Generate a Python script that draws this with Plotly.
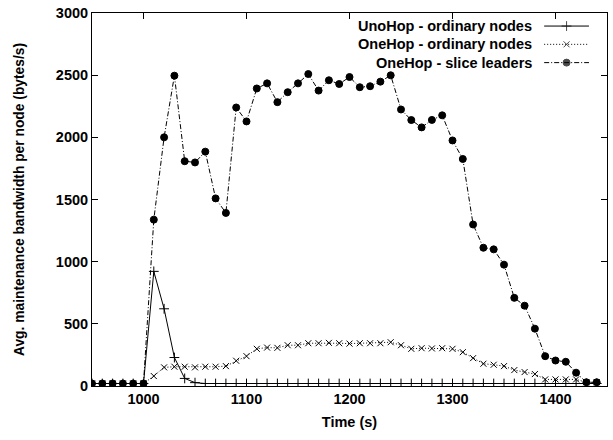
import plotly.graph_objects as go

times = [950, 960, 970, 980, 990, 1000, 1010, 1020, 1030, 1040,
         1050, 1060, 1070, 1080, 1090, 1100, 1110, 1120, 1130, 1140,
         1150, 1160, 1170, 1180, 1190, 1200, 1210, 1220, 1230, 1240,
         1250, 1260, 1270, 1280, 1290, 1300, 1310, 1320, 1330, 1340,
         1350, 1360, 1370, 1380, 1390, 1400, 1410, 1420, 1430, 1440]

unohop_ordinary = [20, 20, 20, 20, 20, 20, 922, 621, 229, 61,
                   27, 20, 20, 20, 20, 20, 20, 20, 20, 20,
                   20, 20, 20, 20, 20, 20, 20, 20, 20, 20,
                   20, 20, 20, 20, 20, 20, 20, 20, 20, 20,
                   20, 20, 20, 20, 20, 20, 20, 20, 20, 20]

onehop_ordinary = [20, 20, 20, 20, 20, 20, 80, 150, 155, 155,
                   150, 155, 155, 160, 203, 240, 299, 309, 307, 328,
                   328, 344, 344, 347, 344, 341, 344, 344, 344, 352,
                   328, 299, 304, 302, 304, 299, 272, 224, 179, 171,
                   160, 128, 112, 96, 53, 53, 53, 53, 30, 30]

onehop_leaders = [20, 20, 20, 20, 20, 20, 1338, 2000, 2496, 1808,
                  1798, 1885, 1509, 1392, 2240, 2128, 2393, 2434, 2283, 2363,
                  2434, 2509, 2376, 2459, 2429, 2485, 2403, 2411, 2448, 2499,
                  2224, 2139, 2080, 2140, 2177, 1975, 1826, 1299, 1112, 1099,
                  976, 709, 646, 461, 240, 205, 195, 107, 30, 30]

series_names = ["UnoHop - ordinary nodes", "OneHop - ordinary nodes", "OneHop - slice leaders"]
x_ticks = [1000, 1100, 1200, 1300, 1400]
y_ticks = [0, 500, 1000, 1500, 2000, 2500, 3000]

FONT = "Liberation Sans, Arial, sans-serif"
styles = [
    dict(dash="solid", symbol="cross-thin", size=7),
    dict(dash="1px,2px", symbol="x-thin", size=6),
    dict(dash="5px,2px,1px,2px", symbol="circle", size=7),
]
data = [unohop_ordinary, onehop_ordinary, onehop_leaders]

fig = go.Figure()
for name, ys, st in zip(series_names, data, styles):
    fig.add_trace(go.Scatter(
        x=times, y=ys, name=name, mode="lines+markers",
        line=dict(color="black", width=1, dash=st["dash"]),
        marker=dict(symbol=st["symbol"], size=st["size"], color="black",
                    line=dict(color="black", width=1)),
        showlegend=False,
    ))

# custom gnuplot-style legend (text right, sample on the right)
leg_y = [0.965, 0.916, 0.867]
for name, st, ly in zip(series_names, styles, leg_y):
    fig.add_trace(go.Scatter(
        x=[0.878, 0.9215, 0.965], y=[ly, ly, ly], xaxis="x2", yaxis="y2",
        mode="lines+markers", hoverinfo="skip", showlegend=False,
        line=dict(color="black", width=1, dash=st["dash"]),
        marker=dict(symbol=st["symbol"], size=[0, st["size"], 0], color="black",
                    line=dict(color="black", width=1)),
    ))
    fig.add_annotation(x=0.8585, y=ly, xref="paper", yref="paper", text=name,
                       showarrow=False, xanchor="right", yanchor="middle",
                       font=dict(family=FONT, size=14.5, color="black", weight="bold"))

axis_common = dict(
    showline=True, linecolor="black", linewidth=1, mirror="ticks",
    ticks="inside", ticklen=6, tickcolor="black", tickwidth=1,
    showgrid=False, zeroline=False,
    tickfont=dict(family=FONT, size=14.5, color="black", weight="bold"),
)

fig.update_layout(
    width=613, height=440,
    margin=dict(l=92, r=5, t=11, b=54),
    paper_bgcolor="white", plot_bgcolor="white",
    xaxis=dict(range=[950, 1450], tickvals=x_ticks,
               title=dict(text="Time (s)", standoff=10,
                          font=dict(family=FONT, size=14.5, color="black", weight="bold")),
               **axis_common),
    yaxis=dict(range=[0, 3000], tickvals=y_ticks,
               title=dict(text="Avg. maintenance bandwidth per node (bytes/s)", standoff=28,
                          font=dict(family=FONT, size=13.8, color="black", weight="bold")),
               **axis_common),
    xaxis2=dict(range=[0, 1], overlaying="x", visible=False, fixedrange=True),
    yaxis2=dict(range=[0, 1], overlaying="y", visible=False, fixedrange=True),
    showlegend=False,
)

fig.write_html("out.html")
